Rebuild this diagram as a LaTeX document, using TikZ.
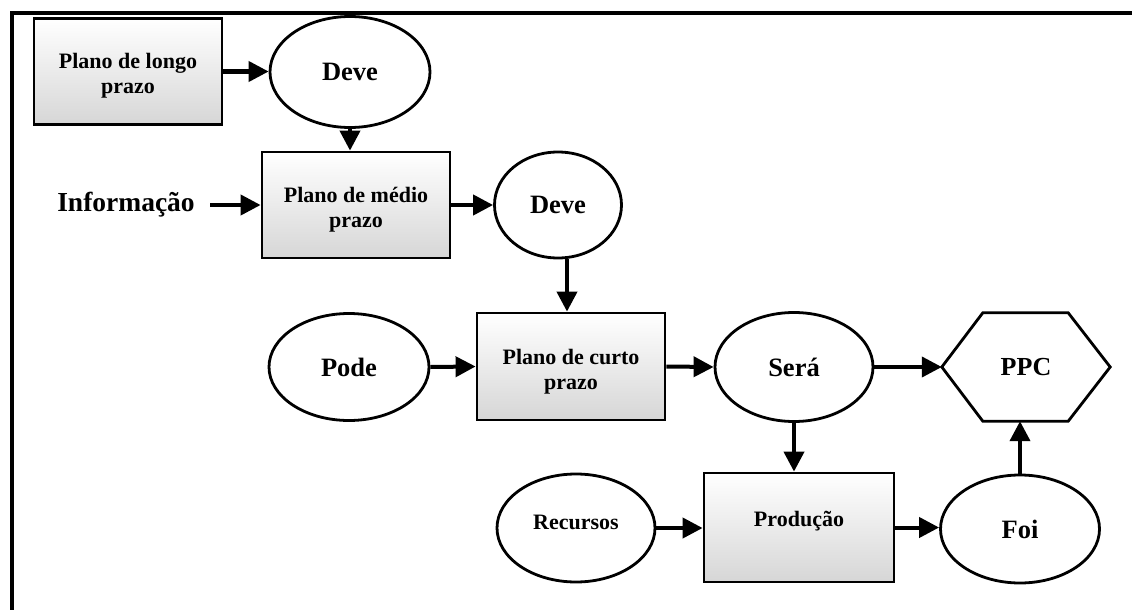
\documentclass[tikz,border=0pt]{standalone}
\usepackage{fontspec}
\setmainfont{Liberation Serif}
\usetikzlibrary{arrows.meta,calc,shapes.geometric}
\newcommand{\boxtxt}[2]{\raisebox{-5pt}[\height][\depth]{\begin{tabular}{@{}c@{}}#1\\#2\end{tabular}}}
\newcommand{\uptxt}[1]{\raisebox{6pt}[\height][\depth]{#1}}
\begin{document}
\begin{tikzpicture}[x=1pt,y=-1pt,
  boxnode/.style={draw,line width=2.8pt,rectangle,top color=white,bottom color=black!16,
    minimum width=188pt,minimum height=106pt,align=center,inner sep=0pt,
    font=\fontsize{22}{25}\selectfont\bfseries},
  ellnode/.style={draw,line width=2.8pt,ellipse,fill=white,inner sep=0pt,
    font=\fontsize{26.5}{30}\selectfont\bfseries},
  arr/.style={line width=4pt,-{Triangle[length=20pt,width=20pt]}},
  frame/.style={line width=3.5pt}
]
\useasboundingbox (0,0) rectangle (1132,610);
\draw[frame] (12,612) -- (12,13) -- (1134,13);

\node[boxnode] (b1) at (128,71.5) {\boxtxt{Plano de longo}{prazo}};
\node[ellnode,minimum width=160pt,minimum height=111pt] (d1) at (350,72) {Deve};
\node[boxnode] (b2) at (356,205) {\boxtxt{Plano de médio}{prazo}};
\node[font=\fontsize{27.5}{30}\selectfont\bfseries] (info) at (126,205) {Informação};
\node[ellnode,minimum width=127pt,minimum height=106pt] (d2) at (558,205) {Deve};
\node[boxnode,minimum height=107pt] (b3) at (571,366.5) {\boxtxt{Plano de curto}{prazo}};
\node[ellnode,minimum width=160pt,minimum height=107pt] (pode) at (349,367) {Pode};
\node[ellnode,minimum width=158pt,minimum height=109pt] (sera) at (794,367) {Será};
\node[minimum width=168pt,minimum height=108pt,inner sep=0pt,
      font=\fontsize{26}{30}\selectfont\bfseries] (ppc) at (1026,367) {PPC};
\draw[line width=2.8pt,line join=miter]
  (ppc.west) -- ($(ppc.north west)+(41,0)$) -- ($(ppc.north east)+(-42,0)$) -- (ppc.east)
  -- ($(ppc.south east)+(-42,0)$) -- ($(ppc.south west)+(41,0)$) -- cycle;
\node[ellnode,minimum width=158pt,minimum height=108pt,
      font=\fontsize{22}{25}\selectfont\bfseries] (rec) at (576,528) {\uptxt{Recursos}};
\node[boxnode,minimum width=190pt,minimum height=109pt] (prod) at (799,527.5) {\uptxt{Produção}};
\node[ellnode,minimum width=159pt,minimum height=108pt] (foi) at (1020,529) {Foi};

\coordinate (xd2) at (567,0);
\draw[arr] (b1.east) -- (b1.east -| d1.west);
\draw[arr] (d1.south) -- (d1.south |- b2.north);
\draw[arr] (info.east) ++(12,0) -- (b2.west);
\draw[arr] (b2.east) -- (d2.west);
\draw[arr] (xd2 |- d2.south) -- (xd2 |- b3.north);
\draw[arr] (pode.east) -- (b3.west);
\draw[arr] (b3.east) -- (sera.west);
\draw[arr] (sera.east) -- (ppc.west);
\draw[arr] (sera.south) -- (sera.south |- prod.north);
\draw[arr] (rec.east) -- (rec.east -| prod.west);
\draw[arr] (prod.east) -- (prod.east -| foi.west);
\draw[arr] (foi.north) -- (foi.north |- ppc.south);
\end{tikzpicture}
\end{document}
